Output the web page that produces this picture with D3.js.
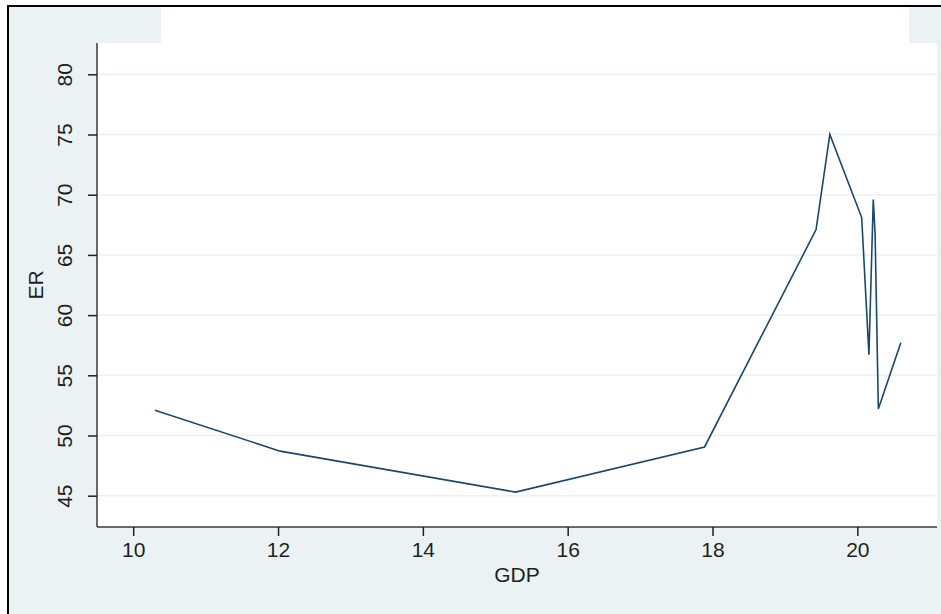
<!DOCTYPE html>
<html>
<head>
<meta charset="utf-8">
<script src="https://cdn.jsdelivr.net/npm/d3@7"></script>
<style>
  html, body { margin: 0; padding: 0; background: #ffffff; }
  svg { display: block; }
  text { font-family: "Liberation Sans", Arial, sans-serif; }
</style>
</head>
<body>
<svg id="chart" width="941" height="614"></svg>
<script>
// GDP (x) and ER (y), in observation order
const gdp = [10.30, 12.03, 15.28, 17.89, 19.43, 19.62, 20.06, 20.16, 20.22, 20.245, 20.29, 20.60];
const er  = [52.1, 48.7, 45.3, 49.05, 67.1, 75.0, 68.1, 56.7, 69.6, 66.8, 52.2, 57.7];

const xTicks = [10, 12, 14, 16, 18, 20];
const yTicks = [45, 50, 55, 60, 65, 70, 75, 80];

const xLabel = "GDP";
const yLabel = "ER";

const W = 941, H = 614;
const svg = d3.select("#chart");

const bg = "#eaf2f3";
const ink = "#1f1f1f";
const lineColor = "#1a476f";

// graph region (light) with framing
svg.append("rect").attr("x", 8).attr("y", 6).attr("width", W - 8).attr("height", H - 6).attr("fill", bg);
svg.append("rect").attr("x", 161).attr("y", 6).attr("width", 909 - 161).attr("height", 40).attr("fill", "#ffffff");

// plot region
const plot = { left: 97, right: 937, top: 43, bottom: 527 };
svg.append("rect")
  .attr("x", plot.left).attr("y", plot.top)
  .attr("width", plot.right - plot.left).attr("height", plot.bottom - plot.top)
  .attr("fill", "#ffffff");

// outer frame lines
svg.append("line").attr("x1", 7).attr("x2", W).attr("y1", 6).attr("y2", 6)
  .attr("stroke", "#000").attr("stroke-width", 2);
svg.append("line").attr("x1", 8).attr("x2", 8).attr("y1", 5).attr("y2", H)
  .attr("stroke", "#000").attr("stroke-width", 2);

const x = d3.scaleLinear().domain([9.5, 21.1]).range([plot.left, plot.right]);
const y = d3.scaleLinear().domain([42.4, 82.6]).range([plot.bottom, plot.top]);

// horizontal grid
svg.append("g")
  .selectAll("line")
  .data(yTicks)
  .join("line")
  .attr("x1", plot.left + 1).attr("x2", plot.right)
  .attr("y1", d => y(d)).attr("y2", d => y(d))
  .attr("stroke", bg).attr("stroke-width", 1.5);

// data line
const pts = gdp.map((g, i) => [g, er[i]]);
svg.append("path")
  .datum(pts)
  .attr("fill", "none")
  .attr("stroke", lineColor)
  .attr("stroke-width", 1.6)
  .attr("stroke-linejoin", "miter")
  .attr("d", d3.line().x(d => x(d[0])).y(d => y(d[1])));

// x axis
const xAxis = svg.append("g")
  .attr("transform", `translate(0,${plot.bottom})`)
  .call(d3.axisBottom(x).tickValues(xTicks).tickFormat(d3.format("d")).tickSize(9).tickPadding(6).tickSizeOuter(0));
xAxis.select(".domain").attr("stroke", "#3a3a3a").attr("stroke-width", 1.5)
  .attr("d", `M${plot.left},0H${plot.right}`);
xAxis.selectAll(".tick line").attr("stroke", ink).attr("stroke-width", 1.5);
xAxis.selectAll(".tick text").attr("fill", ink).attr("font-size", 21)
  .attr("font-family", "'Liberation Sans', Arial, sans-serif");

// y axis
const yAxis = svg.append("g")
  .attr("transform", `translate(${plot.left},0)`)
  .call(d3.axisLeft(y).tickValues(yTicks).tickFormat(d3.format("d")).tickSize(9).tickSizeOuter(0));
yAxis.select(".domain").attr("stroke", "#3a3a3a").attr("stroke-width", 1.5)
  .attr("d", `M0,${plot.top}V${plot.bottom}`);
yAxis.selectAll(".tick line").attr("stroke", ink).attr("stroke-width", 1.5);
yAxis.selectAll(".tick text")
  .attr("fill", ink).attr("font-size", 21)
  .attr("font-family", "'Liberation Sans', Arial, sans-serif")
  .attr("x", null).attr("dy", null)
  .attr("text-anchor", "middle")
  .attr("transform", "translate(-32,0) rotate(-90)")
  .attr("dy", "0.35em");

// axis titles
svg.append("text")
  .attr("x", (plot.left + plot.right) / 2).attr("y", 582)
  .attr("text-anchor", "middle").attr("fill", ink).attr("font-size", 21)
  .text(xLabel);
svg.append("text")
  .attr("transform", `translate(36,${(plot.top + plot.bottom) / 2}) rotate(-90)`)
  .attr("text-anchor", "middle").attr("dy", "0.35em").attr("fill", ink).attr("font-size", 21)
  .text(yLabel);
</script>
</body>
</html>
